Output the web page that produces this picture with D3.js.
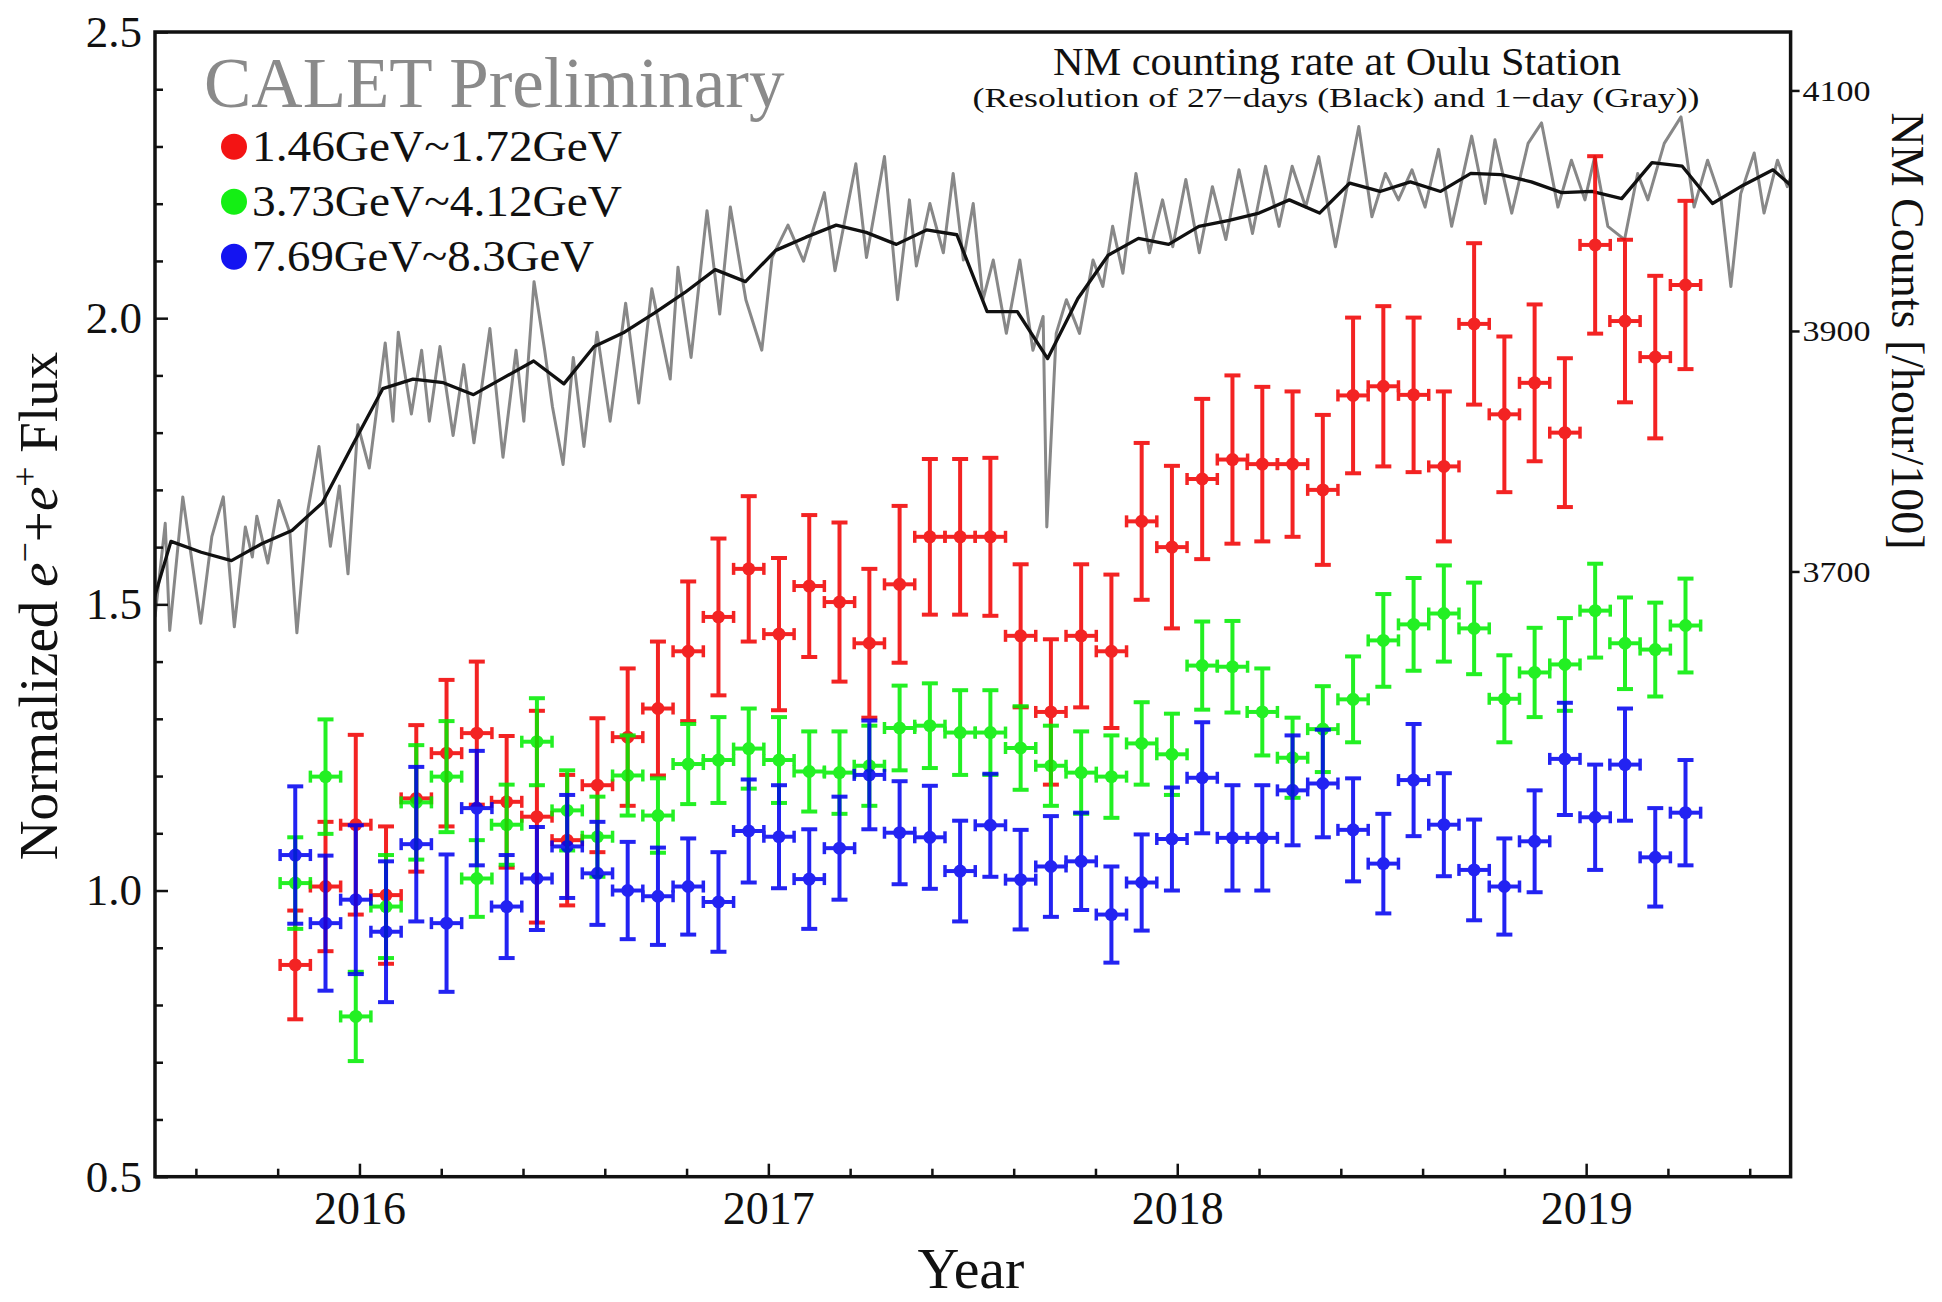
<!DOCTYPE html>
<html>
<head>
<meta charset="utf-8">
<script src="https://cdn.jsdelivr.net/npm/d3@7"></script>
<style>
  body { margin: 0; background: #fff; }
  svg { display: block; }
  text { font-family: "Liberation Serif", "Times New Roman", serif; fill: #111; }
</style>
</head>
<body>
<svg id="chart" width="1942" height="1302"></svg>
<script>
// ---- CALET e-+e+ flux in 27-day (Bartels rotation) bins ----
const binYears = [2015.843, 2015.917, 2015.991, 2016.065, 2016.139, 2016.213, 2016.287, 2016.360,
  2016.434, 2016.508, 2016.582, 2016.656, 2016.730, 2016.804, 2016.878, 2016.952, 2017.026,
  2017.100, 2017.174, 2017.247, 2017.321, 2017.395, 2017.469, 2017.543, 2017.617, 2017.691,
  2017.765, 2017.839, 2017.913, 2017.987, 2018.061, 2018.135, 2018.208, 2018.282, 2018.356,
  2018.430, 2018.504, 2018.578, 2018.652, 2018.726, 2018.800, 2018.874, 2018.948, 2019.022,
  2019.095, 2019.169, 2019.243];
const binHalfWidth = 0.037; // half of a 27-day rotation, in years

const redFlux = [0.870, 1.007, 1.115, 0.992, 1.161, 1.240, 1.275, 1.155, 1.129, 1.088, 1.184, 1.268,
  1.318, 1.418, 1.478, 1.562, 1.448, 1.532, 1.504, 1.432, 1.535, 1.618, 1.618, 1.618, 1.445, 1.312,
  1.445, 1.418, 1.645, 1.600, 1.719, 1.753, 1.745, 1.745, 1.700, 1.865, 1.881, 1.866, 1.741, 1.990,
  1.832, 1.887, 1.800, 2.128, 1.995, 1.932, 2.058];
const redErr = [0.095, 0.113, 0.157, 0.120, 0.128, 0.128, 0.125, 0.115, 0.185, 0.114, 0.117, 0.120,
  0.117, 0.122, 0.137, 0.127, 0.133, 0.124, 0.139, 0.130, 0.137, 0.136, 0.136, 0.138, 0.125, 0.127,
  0.125, 0.134, 0.137, 0.142, 0.140, 0.147, 0.135, 0.127, 0.131, 0.136, 0.140, 0.135, 0.131, 0.141,
  0.136, 0.137, 0.130, 0.155, 0.142, 0.142, 0.147];

const greenFlux = [1.013, 1.199, 0.780, 0.972, 1.154, 1.199, 1.021, 1.115, 1.260, 1.140, 1.094, 1.201,
  1.131, 1.221, 1.228, 1.248, 1.228, 1.208, 1.206, 1.218, 1.284, 1.288, 1.276, 1.276, 1.249, 1.218,
  1.206, 1.199, 1.257, 1.238, 1.393, 1.391, 1.312, 1.232, 1.282, 1.334, 1.437, 1.465, 1.484, 1.458,
  1.335, 1.381, 1.395, 1.489, 1.432, 1.421, 1.463];
const greenErr = [0.080, 0.100, 0.078, 0.090, 0.100, 0.097, 0.067, 0.070, 0.076, 0.070, 0.070, 0.070,
  0.065, 0.070, 0.075, 0.070, 0.075, 0.070, 0.072, 0.070, 0.074, 0.074, 0.074, 0.074, 0.073, 0.070,
  0.072, 0.072, 0.072, 0.071, 0.077, 0.080, 0.076, 0.070, 0.075, 0.075, 0.081, 0.081, 0.084, 0.080,
  0.076, 0.078, 0.081, 0.082, 0.080, 0.082, 0.082];

const blueFlux = [1.062, 0.943, 0.984, 0.928, 1.081, 0.943, 1.144, 0.972, 1.021, 1.077, 1.030, 1.000,
  0.990, 1.007, 0.980, 1.104, 1.094, 1.020, 1.074, 1.202, 1.101, 1.093, 1.034, 1.114, 1.019, 1.042,
  1.051, 0.958, 1.014, 1.090, 1.197, 1.092, 1.092, 1.175, 1.187, 1.106, 1.047, 1.193, 1.115, 1.036,
  1.007, 1.086, 1.230, 1.128, 1.220, 1.058, 1.136];
const blueErr = [0.120, 0.118, 0.130, 0.123, 0.135, 0.120, 0.100, 0.090, 0.090, 0.090, 0.090, 0.085,
  0.085, 0.084, 0.087, 0.090, 0.090, 0.087, 0.090, 0.095, 0.090, 0.090, 0.088, 0.090, 0.087, 0.088,
  0.085, 0.084, 0.084, 0.090, 0.097, 0.092, 0.092, 0.096, 0.094, 0.090, 0.087, 0.098, 0.090, 0.088,
  0.084, 0.089, 0.098, 0.092, 0.098, 0.086, 0.092];

const seriesNames = ["1.46GeV~1.72GeV", "3.73GeV~4.12GeV", "7.69GeV~8.3GeV"];
const seriesColors = ["#f20000", "#00ee00", "#0000f0"];

// ---- Oulu neutron monitor, 27-day averages ----
const nm27Years = [2015.465, 2015.539, 2015.613, 2015.687, 2015.761, 2015.835, 2015.909, 2015.983,
  2016.057, 2016.131, 2016.205, 2016.279, 2016.352, 2016.426, 2016.500, 2016.574, 2016.648, 2016.722,
  2016.796, 2016.870, 2016.944, 2017.018, 2017.092, 2017.166, 2017.239, 2017.313, 2017.387, 2017.461,
  2017.535, 2017.609, 2017.683, 2017.757, 2017.831, 2017.905, 2017.979, 2018.053, 2018.127, 2018.200,
  2018.274, 2018.348, 2018.422, 2018.496, 2018.570, 2018.644, 2018.718, 2018.792, 2018.866, 2018.940,
  2019.014, 2019.087, 2019.161, 2019.235, 2019.309, 2019.383, 2019.457, 2019.531];
const nm27Counts = [3640, 3725, 3716, 3709, 3723, 3734, 3757, 3805, 3852, 3860, 3857, 3847, 3861, 3875,
  3856, 3887, 3899, 3915, 3932, 3951, 3941, 3967, 3978, 3988, 3982, 3972, 3984, 3980, 3916, 3916, 3877,
  3927, 3963, 3977, 3972, 3987, 3992, 3998, 4009, 3998, 4023, 4016, 4024, 4016, 4031, 4030, 4024, 4015,
  4016, 4010, 4040, 4037, 4006, 4021, 4034, 4012];

// ---- Oulu neutron monitor, daily counts (turning points of the daily curve) ----
const nmDayYears = [2015.500, 2015.525, 2015.536, 2015.568, 2015.612, 2015.639, 2015.667, 2015.694,
  2015.721, 2015.738, 2015.749, 2015.776, 2015.803, 2015.830, 2015.847, 2015.874, 2015.901, 2015.929,
  2015.951, 2015.972, 2015.996, 2016.024, 2016.063, 2016.082, 2016.095, 2016.127, 2016.152, 2016.171,
  2016.197, 2016.229, 2016.255, 2016.280, 2016.319, 2016.351, 2016.383, 2016.402, 2016.427, 2016.453,
  2016.472, 2016.498, 2016.523, 2016.549, 2016.581, 2016.613, 2016.651, 2016.683, 2016.715, 2016.760,
  2016.779, 2016.811, 2016.850, 2016.881, 2016.907, 2016.945, 2016.984, 2017.009, 2017.048, 2017.086,
  2017.137, 2017.163, 2017.214, 2017.240, 2017.284, 2017.316, 2017.345, 2017.362, 2017.395, 2017.428,
  2017.452, 2017.477, 2017.501, 2017.525, 2017.550, 2017.582, 2017.615, 2017.647, 2017.672, 2017.681,
  2017.704, 2017.729, 2017.761, 2017.794, 2017.818, 2017.842, 2017.867, 2017.899, 2017.932, 2017.964,
  2017.989, 2018.021, 2018.054, 2018.086, 2018.119, 2018.151, 2018.184, 2018.216, 2018.249, 2018.281,
  2018.314, 2018.346, 2018.387, 2018.444, 2018.476, 2018.509, 2018.541, 2018.574, 2018.606, 2018.639,
  2018.671, 2018.720, 2018.753, 2018.777, 2018.818, 2018.858, 2018.891, 2018.931, 2018.964, 2018.997,
  2019.021, 2019.053, 2019.094, 2019.126, 2019.151, 2019.191, 2019.232, 2019.264, 2019.297, 2019.330,
  2019.354, 2019.378, 2019.411, 2019.435, 2019.468, 2019.492, 2019.503];
const nmDayCounts = [3662, 3740, 3651, 3762, 3657, 3729, 3762, 3654, 3737, 3712, 3746, 3707, 3759, 3732,
  3649, 3751, 3804, 3721, 3771, 3698, 3822, 3786, 3890, 3825, 3899, 3831, 3884, 3825, 3887, 3813, 3872,
  3807, 3902, 3795, 3884, 3825, 3941, 3884, 3837, 3789, 3878, 3804, 3899, 3825, 3923, 3840, 3935, 3860,
  3953, 3878, 4000, 3914, 4003, 3926, 3884, 3961, 3988, 3958, 4015, 3950, 4039, 3961, 4045, 3926, 4009,
  3954, 4006, 3965, 4031, 3959, 4006, 3926, 3959, 3898, 3959, 3884, 3912, 3737, 3898, 3926, 3898, 3959,
  3937, 3987, 3948, 4031, 3965, 4009, 3970, 4026, 3965, 4020, 3976, 4034, 3981, 4037, 3987, 4037, 4003,
  4045, 3970, 4070, 3995, 4031, 4009, 4034, 4003, 4051, 3987, 4062, 4006, 4059, 3998, 4056, 4073, 4003,
  4042, 4009, 4045, 3987, 3976, 4031, 4009, 4056, 4078, 4003, 4042, 4009, 3937, 4014, 4048, 3998, 4042,
  4020, 4030];

// ---- axis ticks ----
const yearTicks = [2016, 2017, 2018, 2019];
const yearMinorTicks = [2015.6, 2015.8, 2016.2, 2016.4, 2016.6, 2016.8, 2017.2, 2017.4, 2017.6, 2017.8,
  2018.2, 2018.4, 2018.6, 2018.8, 2019.2, 2019.4];
const fluxTicks = [0.5, 1.0, 1.5, 2.0, 2.5];
const fluxMinorTicks = [0.6, 0.7, 0.8, 0.9, 1.1, 1.2, 1.3, 1.4, 1.6, 1.7, 1.8, 1.9, 2.1, 2.2, 2.3, 2.4];
const nmTicks = [3700, 3900, 4100];

// ---- layout ----
const svg = d3.select("#chart");
const L = 155, R = 1790.6, T = 32, B = 1176.7;

const x = d3.scaleLinear().domain([2015.5, 2019.5]).range([L, R]);
const y = d3.scaleLinear().domain([0.5, 2.5]).range([B, T]);
const yNM = d3.scaleLinear().domain([3196.7, 4148.6]).range([B, T]);

svg.append("defs").append("clipPath").attr("id", "plotClip")
  .append("rect").attr("x", L).attr("y", T).attr("width", R - L).attr("height", B - T);

// neutron monitor curves
const nmLine = d3.line().x(d => x(d[0])).y(d => yNM(d[1]));
const plot = svg.append("g").attr("clip-path", "url(#plotClip)");
plot.append("path")
  .attr("d", nmLine(d3.zip(nmDayYears, nmDayCounts)))
  .attr("fill", "none").attr("stroke", "#888").attr("stroke-width", 3)
  .attr("stroke-linejoin", "round");
plot.append("path")
  .attr("d", nmLine(d3.zip(nm27Years, nm27Counts)))
  .attr("fill", "none").attr("stroke", "#111").attr("stroke-width", 3.3)
  .attr("stroke-linejoin", "round");

// flux points with error bars
const allSeries = [
  { flux: redFlux, err: redErr },
  { flux: greenFlux, err: greenErr },
  { flux: blueFlux, err: blueErr }
];
allSeries.forEach((s, si) => {
  const g = plot.append("g").attr("opacity", 0.86)
    .attr("stroke", seriesColors[si]).attr("fill", seriesColors[si]);
  binYears.forEach((t, i) => {
    const v = s.flux[i], e = s.err[i];
    const cx = x(t), cy = y(v), y0 = y(v - e), y1 = y(v + e);
    const xl = x(t - binHalfWidth), xr = x(t + binHalfWidth);
    g.append("line").attr("x1", cx).attr("x2", cx).attr("y1", y0).attr("y2", y1).attr("stroke-width", 4);
    g.append("line").attr("x1", cx - 8).attr("x2", cx + 8).attr("y1", y0).attr("y2", y0).attr("stroke-width", 4);
    g.append("line").attr("x1", cx - 8).attr("x2", cx + 8).attr("y1", y1).attr("y2", y1).attr("stroke-width", 4);
    g.append("line").attr("x1", xl).attr("x2", xr).attr("y1", cy).attr("y2", cy).attr("stroke-width", 4);
    g.append("line").attr("x1", xl).attr("x2", xl).attr("y1", cy - 6).attr("y2", cy + 6).attr("stroke-width", 3.5);
    g.append("line").attr("x1", xr).attr("x2", xr).attr("y1", cy - 6).attr("y2", cy + 6).attr("stroke-width", 3.5);
    g.append("circle").attr("cx", cx).attr("cy", cy).attr("r", 6.5).attr("stroke", "none");
  });
});

// frame
svg.append("rect").attr("x", L).attr("y", T).attr("width", R - L).attr("height", B - T)
  .attr("fill", "none").attr("stroke", "#111").attr("stroke-width", 3.5);

// axes
function styleAxis(g) {
  g.select(".domain").remove();
  g.selectAll(".tick line").attr("stroke", "#111").attr("stroke-width", 2.5);
  g.selectAll("text").attr("fill", "#111");
}
svg.append("g").attr("transform", `translate(${L},0)`)
  .call(d3.axisLeft(y).tickValues(fluxTicks).tickSize(-13).tickPadding(13).tickFormat(d3.format(".1f")))
  .call(styleAxis)
  .call(g => g.selectAll("text").attr("font-size", 45).attr("font-family", "Liberation Serif"));
svg.append("g").attr("transform", `translate(${L},0)`)
  .call(d3.axisLeft(y).tickValues(fluxMinorTicks).tickSize(-8).tickFormat(""))
  .call(styleAxis);
svg.append("g").attr("transform", `translate(0,${B})`)
  .call(d3.axisBottom(x).tickValues(yearTicks).tickSize(-13).tickPadding(15).tickFormat(d3.format("d")))
  .call(styleAxis)
  .call(g => g.selectAll("text").attr("font-size", 46).attr("font-family", "Liberation Serif"));
svg.append("g").attr("transform", `translate(0,${B})`)
  .call(d3.axisBottom(x).tickValues(yearMinorTicks).tickSize(-8).tickFormat(""))
  .call(styleAxis);
svg.append("g").attr("transform", `translate(${R},0)`)
  .call(d3.axisRight(yNM).tickValues(nmTicks).tickSize(9).tickPadding(3).tickFormat(d3.format("d")))
  .call(styleAxis)
  .call(g => g.selectAll("text").attr("font-size", 30).attr("font-family", "Liberation Serif")
    .attr("textLength", 68).attr("lengthAdjust", "spacingAndGlyphs"));

// axis titles
svg.append("text").attr("x", 971).attr("y", 1288).attr("text-anchor", "middle")
  .attr("font-size", 58).text("Year");

const yTitle = svg.append("text").attr("transform", "translate(57,606) rotate(-90)")
  .attr("text-anchor", "middle").attr("font-size", 55);
yTitle.append("tspan").text("Normalized ");
yTitle.append("tspan").attr("font-style", "italic").text("e");
yTitle.append("tspan").attr("baseline-shift", "super").attr("font-size", 36).text("\u2212");
yTitle.append("tspan").text("+");
yTitle.append("tspan").attr("font-style", "italic").text("e");
yTitle.append("tspan").attr("baseline-shift", "super").attr("font-size", 36).text("+");
yTitle.append("tspan").text(" Flux");

svg.append("text").attr("transform", "translate(1892,331) rotate(90)")
  .attr("text-anchor", "middle").attr("font-size", 46).text("NM Counts [/hour/100]");

// headings inside the frame
svg.append("text").attr("x", 1337).attr("y", 75).attr("text-anchor", "middle")
  .attr("font-size", 39).attr("textLength", 568).attr("lengthAdjust", "spacingAndGlyphs")
  .text("NM counting rate at Oulu Station");
svg.append("text").attr("x", 1336).attr("y", 107).attr("text-anchor", "middle")
  .attr("font-size", 28).attr("textLength", 727).attr("lengthAdjust", "spacingAndGlyphs")
  .text("(Resolution of 27\u2212days (Black) and 1\u2212day (Gray))");

svg.append("text").attr("x", 204).attr("y", 107).attr("font-size", 71)
  .style("fill", "#8a8a8a").text("CALET Preliminary");

// legend
const legendY = [146.7, 201.7, 256.7];
const legendW = [370, 370, 342];
seriesNames.forEach((name, i) => {
  svg.append("circle").attr("cx", 234).attr("cy", legendY[i]).attr("r", 13)
    .attr("fill", seriesColors[i]).attr("opacity", 0.92);
  svg.append("text").attr("x", 252).attr("y", legendY[i] + 14).attr("font-size", 45)
    .attr("textLength", legendW[i]).attr("lengthAdjust", "spacingAndGlyphs").text(name);
});
</script>
</body>
</html>
